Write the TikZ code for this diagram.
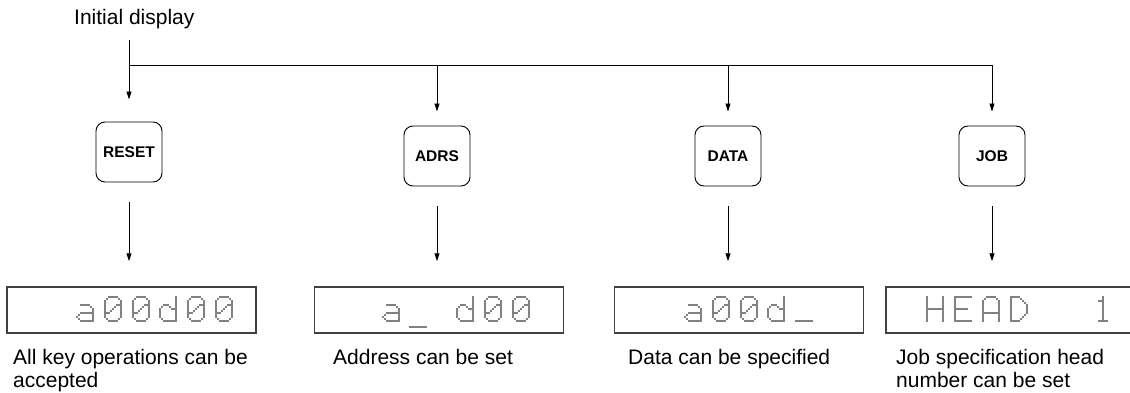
\documentclass[tikz,border=0pt]{standalone}
\usepackage{fontspec}
\setmainfont{Liberation Sans}
\usetikzlibrary{arrows.meta, positioning}

% 5x7 dot patterns of the LCD characters (rows from top)
\newcommand{\glyphsmalla}{0/0/0/0/0,0/0/0/0/0,0/1/1/1/0,0/0/0/0/1,0/1/1/1/1,1/0/0/0/1,0/1/1/1/1}
\newcommand{\glyphsmalld}{0/0/0/0/1,0/0/0/0/1,0/1/1/0/1,1/0/0/1/1,1/0/0/0/1,1/0/0/0/1,0/1/1/1/1}
\newcommand{\glyphzero}{0/1/1/1/0,1/0/0/0/1,1/0/0/1/1,1/0/1/0/1,1/1/0/0/1,1/0/0/0/1,0/1/1/1/0}
\newcommand{\glyphone}{0/0/1/0/0,0/1/1/0/0,0/0/1/0/0,0/0/1/0/0,0/0/1/0/0,0/0/1/0/0,0/1/1/1/0}
\newcommand{\glyphH}{1/0/0/0/1,1/0/0/0/1,1/0/0/0/1,1/1/1/1/1,1/0/0/0/1,1/0/0/0/1,1/0/0/0/1}
\newcommand{\glyphE}{1/1/1/1/1,1/0/0/0/0,1/0/0/0/0,1/1/1/1/0,1/0/0/0/0,1/0/0/0/0,1/1/1/1/1}
\newcommand{\glyphA}{0/1/1/1/0,1/0/0/0/1,1/0/0/0/1,1/0/0/0/1,1/1/1/1/1,1/0/0/0/1,1/0/0/0/1}
\newcommand{\glyphD}{1/1/1/0/0,1/0/0/1/0,1/0/0/0/1,1/0/0/0/1,1/0/0/0/1,1/0/0/1/0,1/1/1/0/0}
\newcommand{\glyphunder}{0/0/0/0/0,0/0/0/0/0,0/0/0/0/0,0/0/0/0/0,0/0/0/0/0,0/0/0/0/0,1/1/1/1/1}

% bit of the current character at row #1, column #2
\newcommand{\lcdbit}[2]{\csname lcd@#1@#2\endcsname}
\newcommand{\lcddotat}[2]{\fill[lcddot] (#1,#2) circle[radius=0.95pt];}

% one LCD character: left x, top y, pattern
\newcommand{\lcdchar}[3]{%
  \edef\lcdrows{#3}%
  \foreach \rr in {0,...,7}{\foreach \kk in {-1,...,5}{%
    \expandafter\xdef\csname lcd@\rr @\kk\endcsname{0}}}%
  \foreach \ca/\cb/\cc/\cd/\ce [count=\rr from 0] in \lcdrows {
    \foreach \bit [count=\kk from 0] in {\ca,\cb,\cc,\cd,\ce} {%
      \expandafter\xdef\csname lcd@\rr @\kk\endcsname{\bit}}}%
  \foreach \rr [evaluate=\rr as \rn using int(\rr+1)] in {0,...,6} {
    \foreach \kk [evaluate=\kk as \kn using int(\kk+1),
                  evaluate=\kk as \kp using int(\kk-1)] in {0,...,4} {
      \ifnum\lcdbit{\rr}{\kk}=1
        \lcddotat{#1+4*\kk}{#2+4*\rr}
        \ifnum\lcdbit{\rr}{\kn}=1 \lcddotat{#1+4*\kk+2}{#2+4*\rr}\fi
        \ifnum\lcdbit{\rn}{\kk}=1 \lcddotat{#1+4*\kk}{#2+4*\rr+2}\fi
        \ifnum\lcdbit{\rn}{\kn}=1 \ifnum\lcdbit{\rr}{\kn}=0 \ifnum\lcdbit{\rn}{\kk}=0
          \lcddotat{#1+4*\kk+2}{#2+4*\rr+2}\fi\fi\fi
        \ifnum\lcdbit{\rn}{\kp}=1 \ifnum\lcdbit{\rr}{\kp}=0 \ifnum\lcdbit{\rn}{\kk}=0
          \lcddotat{#1+4*\kk-2}{#2+4*\rr+2}\fi\fi\fi
      \fi
    }
  }}

\begin{document}
\begin{tikzpicture}[x=1pt, y=-1pt,
        % Define the styles
        flow/.style={line width=0.9pt, -{Triangle[length=8pt,width=5pt]}},
        keybox/.style={draw, line width=0.9pt, rounded corners=9pt, minimum width=66pt,
          minimum height=60pt, inner sep=0pt, font=\bfseries\fontsize{15.5}{18}\selectfont},
        lcdbox/.style={draw=black!75, line width=1.5pt, minimum width=249pt,
          minimum height=46pt, inner sep=0pt},
        lcddot/.style={fill=black},
        caption/.style={anchor=north west, align=left, inner sep=0pt,
          font=\fontsize{21}{23}\selectfont}]

        \clip (0,0) rectangle (1130,393);

        % 1. The start text and the keys
        \node[anchor=base west, inner sep=0pt, font=\fontsize{21}{25}\selectfont] (init) at (74,25) {Initial display};
        \node[keybox] (reset) at (129,152) {RESET};
        \node[keybox] (adrs) at (437,156) {ADRS};
        \node[keybox] (data) at (728,156) {DATA};
        \node[keybox] (job) at (992,156) {JOB};

        % 2. The displays and what they mean
        \node[lcdbox] (lcdreset) at (131.5,310) {};
        \node[lcdbox] (lcdadrs) at (439,310) {};
        \node[lcdbox] (lcddata) at (739,310) {};
        \node[lcdbox] (lcdjob) at (1010.5,310) {};

        \node[caption] (capreset) at (13,349) {All key operations can be\\accepted};
        \node[caption] (capadrs) at (333,349) {Address can be set};
        \node[caption] (capdata) at (628,349) {Data can be specified};
        \node[caption] (capjob) at (896,349) {Job specification head\\number can be set};

        % 3. Branches from the initial display
        \coordinate (start) at (129,40);
        \coordinate (fork) at (129,65);
        \draw[flow, shorten >=22pt] (start) -- (reset.north);
        \draw[line width=0.9pt] (fork) -- (fork -| job.north);
        \foreach \key in {adrs, data, job}
          \draw[flow, shorten >=14pt] (fork -| \key.north) -- (\key.north);

        % 4. From each key to its display
        \foreach \key/\lcd in {reset/lcdreset, adrs/lcdadrs, data/lcddata, job/lcdjob}
          \draw[flow, shorten <=20pt, shorten >=25pt] (\key.south) -- (\key.south |- \lcd.north);

        % 5. Dot characters in the displays
        \foreach \px/\g in {77/\glyphsmalla, 105/\glyphzero, 133/\glyphzero,
                            160/\glyphsmalld, 188/\glyphzero, 216/\glyphzero}
          \lcdchar{\px}{297}{\g};
        \foreach \px/\g in {383/\glyphsmalla, 457/\glyphsmalld, 485/\glyphzero, 513/\glyphzero}
          \lcdchar{\px}{297}{\g};
        \lcdchar{410}{303}{\glyphunder};
        \foreach \px/\g in {685/\glyphsmalla, 713/\glyphzero, 741/\glyphzero,
                            768/\glyphsmalld, 796/\glyphunder}
          \lcdchar{\px}{297}{\g};
        \foreach \px/\g in {927/\glyphH, 955/\glyphE, 983/\glyphA, 1011/\glyphD, 1095/\glyphone}
          \lcdchar{\px}{297}{\g};
    \end{tikzpicture}
\end{document}
